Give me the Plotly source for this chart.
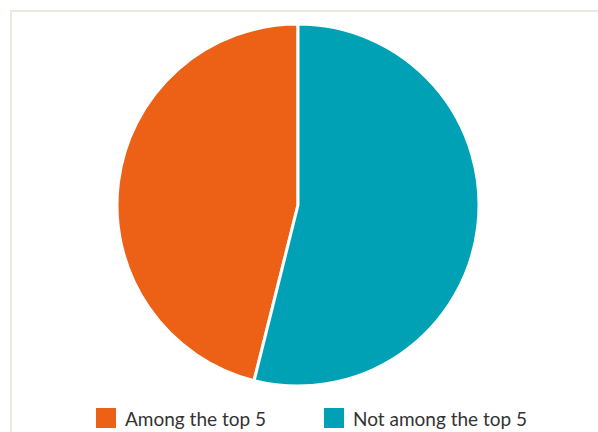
import plotly.graph_objects as go

labels = ["Among the top 5", "Not among the top 5"]
values = [46.1, 53.9]
colors = ["#ec6116", "#00a1b5"]

W, H = 598, 432
ML, MR, MT, MB = 117, 119, 24, 46
PW, PH = W - ML - MR, H - MT - MB


def px_x(x):
    return (x - ML) / PW


def px_y(y):
    return (H - MB - y) / PH


fig = go.Figure(
    go.Pie(
        labels=labels,
        values=values,
        sort=False,
        direction="clockwise",
        rotation=-2 * 180 * values[0] / sum(values),
        marker=dict(colors=colors, line=dict(color="#ffffff", width=3)),
        textinfo="none",
        hoverinfo="label+percent",
        showlegend=False,
    )
)

shapes = [
    # outer frame
    dict(type="rect", xref="paper", yref="paper",
         x0=px_x(11), x1=px_x(640), y0=px_y(11), y1=px_y(480),
         line=dict(color="#ece8de", width=2), fillcolor="rgba(0,0,0,0)", layer="below"),
]
annotations = []
legend_x = [96, 324]
for lab, col, lx in zip(labels, colors, legend_x):
    shapes.append(dict(type="rect", xref="paper", yref="paper",
                       x0=px_x(lx), x1=px_x(lx + 20), y0=px_y(428), y1=px_y(408),
                       line=dict(width=0), fillcolor=col))
    annotations.append(dict(text=lab, xref="paper", yref="paper",
                            x=px_x(lx + 27), y=px_y(418), xanchor="left", yanchor="middle",
                            showarrow=False, font=dict(family="Lato", size=19, color="#333333")))

fig.update_layout(
    width=W, height=H,
    margin=dict(l=ML, r=MR, t=MT, b=MB),
    paper_bgcolor="#ffffff",
    plot_bgcolor="#ffffff",
    shapes=shapes,
    annotations=annotations,
)

fig.write_html("out.html")
